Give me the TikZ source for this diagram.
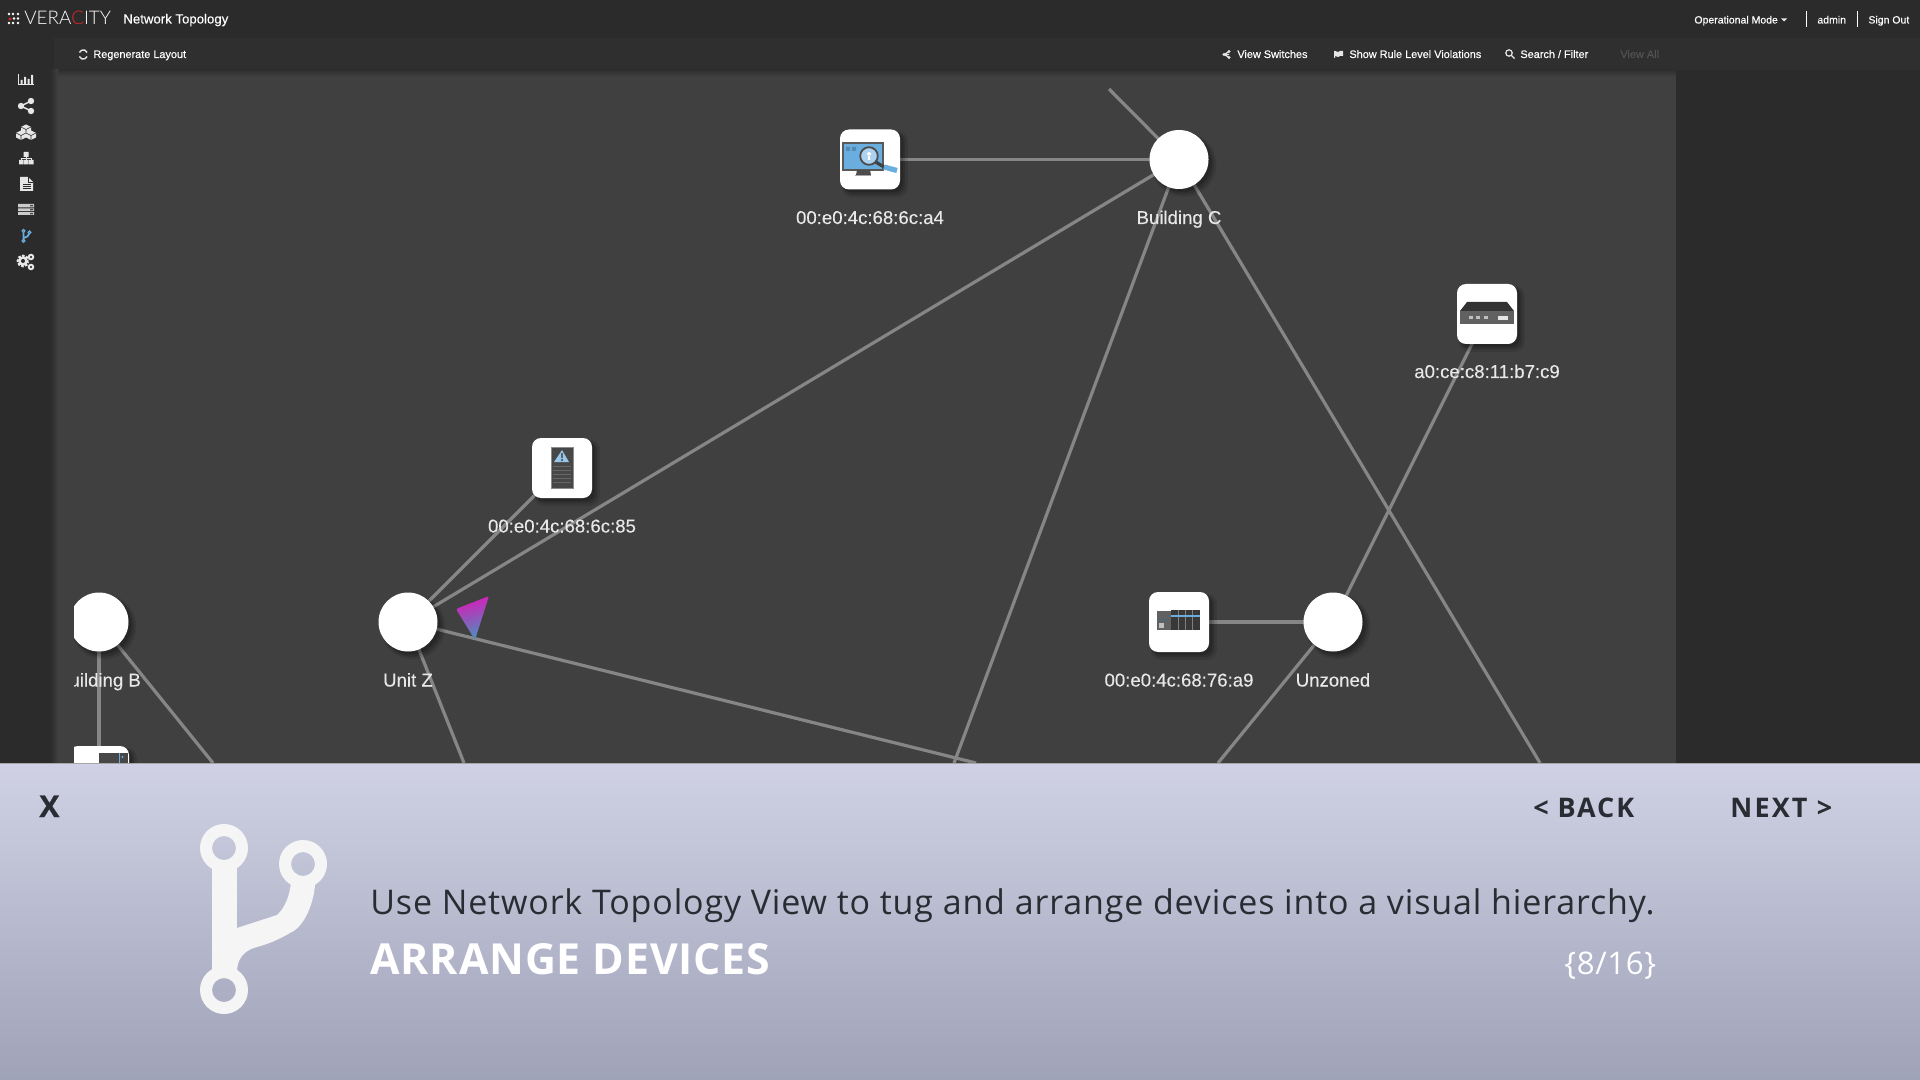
\documentclass[tikz,border=0pt]{standalone}
\usepackage{fontspec}
\setmainfont{Liberation Sans}
\newfontfamily\panelfont{Open Sans}
\newfontfamily\logofont{Lato Light}
\usetikzlibrary{shadows,calc}
\pgfdeclarelayer{back}
\pgfdeclarelayer{edge}
\pgfsetlayers{back,edge,main}
\definecolor{barcol}{HTML}{2B2B2B}
\definecolor{toolcol}{HTML}{2F2F2F}
\definecolor{graphcol}{HTML}{404040}
\definecolor{linecol}{HTML}{868686}
\definecolor{labelcol}{HTML}{E8E8E8}
\definecolor{uicol}{HTML}{E6E6E6}
\definecolor{paneltop}{HTML}{D0D1E5}
\definecolor{panelbot}{HTML}{9FA3B7}
\definecolor{paneldark}{HTML}{2A2C33}
\definecolor{iconblue}{HTML}{6AAEE0}
\definecolor{cursortop}{HTML}{D81CB8}
\definecolor{cursormid}{HTML}{8A62B4}
\definecolor{cursorbot}{HTML}{4A90BE}
\definecolor{logored}{HTML}{E0242A}
\tikzset{
  softshadow/.style={
    general shadow={fill=black,opacity=.10,shadow xshift=2.2pt,shadow yshift=-2.2pt,shadow scale=1.10},
    general shadow={fill=black,opacity=.14,shadow xshift=2pt,shadow yshift=-2pt,shadow scale=1.04},
    general shadow={fill=black,opacity=.18,shadow xshift=1.5pt,shadow yshift=-1.5pt}},
  zone/.style={circle,fill=white,minimum size=29.5pt,inner sep=0pt,softshadow},
  device/.style={rectangle,rounded corners=4.5pt,fill=white,minimum size=30pt,inner sep=0pt,softshadow},
  link/.style={draw=linecol,line width=1.6pt},
  nodelabel/.style={anchor=base,inner sep=0pt,text=labelcol,font=\fontsize{9.3}{11}\selectfont\addfontfeature{FakeBold=0.15}},
  uitext/.style={anchor=base west,inner sep=0pt,text=white,font=\fontsize{5.45}{7}\selectfont\addfontfeature{FakeBold=0.25}},
  uitop/.style={uitext,font=\fontsize{5.25}{7}\selectfont\addfontfeature{FakeBold=0.25}},
  uiicon/.style={fill=uicol,draw=none},
  paneltext/.style={anchor=base west,inner sep=0pt,font=\panelfont\fontsize{17}{22}\selectfont},
  navtext/.style={anchor=base west,inner sep=0pt,text=paneldark,font=\panelfont\bfseries\fontsize{13.5}{16}\selectfont},
}
\begin{document}
\begin{tikzpicture}[x=0.5pt,y=-0.5pt]
\useasboundingbox (0,0) rectangle (1920,1080);
% backgrounds
\begin{pgfonlayer}{back}
\fill[barcol] (0,0) rectangle (1920,1080);
\fill[toolcol] (54,38) rectangle (1920,70);
\fill[graphcol] (56,70) rectangle (1676,780);
\shade[top color=toolcol,bottom color=graphcol] (56,70) rectangle (1676,77);
\shade[left color=barcol,right color=graphcol] (50,70) rectangle (58,780);
\end{pgfonlayer}
% free ends
\coordinate (endtop) at (1109,89);
\coordinate (endA) at (954,763);
\coordinate (endB) at (1540,763);
\coordinate (endC) at (1218,763);
\coordinate (endD) at (976,763);
\coordinate (endE) at (464,763);
\coordinate (endF) at (213,763);
% nodes
\node[zone] (bldgC) at (1179,159.5) {};
\node[zone] (unitZ) at (408,622) {};
\node[zone] (bldgB) at (99,622) {};
\node[zone] (unzoned) at (1333,622) {};
\node[device] (devA4) at (870,159.5) {};
\node[device] (devC9) at (1487,314) {};
\node[device] (dev85) at (562,468) {};
\node[device] (devA9) at (1179,622) {};
\node[device] (devLow) at (99,776) {};
% connectors
\begin{pgfonlayer}{edge}
\draw[link] (bldgC.center) -- (endtop);
\draw[link] (devA4.center) -- (bldgC.center);
\draw[link] (bldgC.center) -- (unitZ.center);
\draw[link] (bldgC.center) -- (endA);
\draw[link] (bldgC.center) -- (endB);
\draw[link] (devC9.center) -- (unzoned.center);
\draw[link] (devA9.center) -- (unzoned.center);
\draw[link] (unzoned.center) -- (endC);
\draw[link] (unitZ.center) -- (dev85.center);
\draw[link] (unitZ.center) -- (endD);
\draw[link] (unitZ.center) -- (endE);
\draw[link] (bldgB.center) -- (devLow.center);
\draw[link] (bldgB.center) -- (endF);
\end{pgfonlayer}
% monitor icon
\fill[iconblue,draw=black!65,line width=.6pt] (843,143) rectangle (883,170);
\fill[black!70] (857,170) -- (870,170) -- (871,175) -- (856,175) -- cycle;
\fill[black!35] (855,175) rectangle (871,176);
\fill[iconblue!80!black] (846,147) rectangle (850,151) (852,147) rectangle (856,151);
\draw[line width=1.6pt,black!75] (874,161) -- (884,167);
\draw[line width=2.6pt,iconblue] (884,167) -- (897,170.5);
\fill[white!45!iconblue,draw=black!70,line width=.9pt] (869,156) circle (8.8);
\fill[white] (869,154) circle (2) (868,155) rectangle (870,160);
% switch icon
\fill[black!80] (1460,311) -- (1467,302) -- (1507,302) -- (1514,311) -- cycle;
\fill[black!62] (1460,311) rectangle (1514,324);
\foreach \px in {1471,1478,1486}{\fill[black!25] (\px-2,316.5) rectangle (\px+2,319.5);}
\fill[black!10] (1498,316) rectangle (1508,320);
% rack icon
\fill[black!72,draw=black!45,line width=.5pt] (551,447) rectangle (573,488);
\fill[iconblue!70!white] (562,450) -- (554,462) -- (569,462) -- cycle;
\fill[black!80] (561.3,453) rectangle (562.7,458) (561.3,459) rectangle (562.7,461);
\foreach \py in {466,470,474,478,482}{\draw[black!60,line width=.3pt] (553,\py) -- (571,\py);}
% plc icon
\fill[black!62] (1157,611) rectangle (1171,630);
\fill[black!78] (1171,610) rectangle (1200,630);
\foreach \px in {1178,1185,1192}{\draw[black!50,line width=.4pt] (\px,610) -- (\px,630);}
\draw[iconblue,line width=.6pt] (1171,616) -- (1200,616);
\fill[iconblue!60!black] (1160,618.5) rectangle (1168,620);
\fill[black!25] (1159,623) rectangle (1164,628);
% lower device icon
\fill[black!72] (99,753) rectangle (128,770);
\draw[iconblue,line width=.5pt] (119,753) -- (119,770);
\fill[iconblue] (122.5,757) circle (1.2);
% cursor triangle
\shade[top color=cursortop,middle color=cursormid,bottom color=cursorbot,rounded corners=1pt,shading angle=15]
  (456,609) -- (489,596) -- (475,640) -- cycle;
% labels
\node[nodelabel] (lblA4) at (870,224) {00:e0:4c:68:6c:a4};
\node[nodelabel] (lblC) at (1179,224) {Building C};
\node[nodelabel] (lblC9) at (1487,378) {a0:ce:c8:11:b7:c9};
\node[nodelabel] (lbl85) at (562,532.5) {00:e0:4c:68:6c:85};
\node[nodelabel] (lblZ) at (408,686.5) {Unit Z};
\node[nodelabel] (lblB) at (99,686.5) {Building B};
\node[nodelabel] (lblA9) at (1179,686.5) {00:e0:4c:68:76:a9};
\node[nodelabel] (lblU) at (1333,686.5) {Unzoned};
% left clip of the graph
\fill[graphcol] (58,560) rectangle (74,763);
% top bar
\foreach \dx/\dy in {9/14,13/14,18/14,14/18.5,18/18.5,9/23,13/23,18/23}{\fill[white] (\dx,\dy) circle (1.3);}
\fill[logored] (10,19) circle (1.6);
\node[anchor=base west,inner sep=0pt,text=white,font=\logofont\fontsize{9.4}{11}\selectfont] (logo) at (24,24.5)
  {VERA\textcolor{logored}{C}ITY};
\node[uitext,font=\fontsize{6.6}{8}\selectfont\addfontfeature{FakeBold=0.25}] (title) at (123,23.5) {Network Topology};
\node[uitext] (regen) at (93,58) {Regenerate Layout};
\node[uitext] (views) at (1237,58) {View Switches};
\node[uitext] (rules) at (1349,58) {Show Rule Level Violations};
\node[uitext] (search) at (1520,58) {Search / Filter};
\node[uitext,text=black!68] (viewall) at (1620,58) {View All};
\node[uitop] (opmode) at (1694,23.5) {Operational Mode};
\node[uitop] (admin) at (1817,23.5) {admin};
\node[uitop] (signout) at (1868,23.5) {Sign Out};
\fill[uicol] (1781,18.5) -- (1787,18.5) -- (1784,21.5) -- cycle;
\draw[white,line width=.5pt] (1806,11) -- (1806,27) (1857,11) -- (1857,27);
% toolbar icons
\draw[uicol,line width=.7pt] (79.5,52.5) arc (200:340:4);
\draw[uicol,line width=.7pt] (87,56.5) arc (20:160:4);
\draw[uicol,line width=.55pt] (1229,54.5) -- (1224,54.5) (1229,51.5) -- (1224,54.5) -- (1229,57.5);
\fill[uicol] (1224,54.5) circle (1.6) (1229,51.5) circle (1.6) (1229,57.5) circle (1.6);
\fill[uicol] (1334,51) rectangle (1335,58) (1335,51) -- (1338,52) -- (1340,51) -- (1343,51) -- (1343,56) -- (1340,56) -- (1338,57) -- (1335,56) -- cycle;
\draw[uicol,line width=.6pt] (1509,53) circle (3.2) (1511.5,55.5) -- (1514.5,58.5);
% sidebar icons
\draw[uicol,line width=.5pt] (18,74) -- (18,85) -- (34,85);
\fill[uicol] (20.5,80) rectangle (22.5,84) (24,77) rectangle (26,84) (27.5,79) rectangle (29.5,84) (31,75) rectangle (33,84);
\draw[uicol,line width=.7pt] (31,101) -- (21,106) -- (31,111);
\fill[uicol] (21,106) circle (3.2) (31,101) circle (3.2) (31,111) circle (3.2);
\foreach \cx/\cy in {26/129,21/135,31/135}{\fill[uicol] (\cx,\cy-4.5) -- (\cx+5,\cy-2) -- (\cx+5,\cy+2.5) -- (\cx,\cy+5) -- (\cx-5,\cy+2.5) -- (\cx-5,\cy-2) -- cycle;
  \draw[barcol,line width=.3pt] (\cx-5,\cy-2) -- (\cx,\cy+.5) -- (\cx+5,\cy-2) (\cx,\cy+.5) -- (\cx,\cy+5);}
\fill[uicol] (23.5,152) rectangle (28.5,157) (19,160) rectangle (23.5,164.5) (24,160) rectangle (28.5,164.5) (29,160) rectangle (33.5,164.5);
\draw[uicol,line width=.4pt] (26,157) -- (26,160) (21,160) -- (21,158.5) -- (31,158.5) -- (31,160);
\fill[uicol] (20,177) -- (28,177) -- (33,182) -- (33,191) -- (20,191) -- cycle;
\draw[barcol,line width=.4pt] (28,177) -- (28,182) -- (33,182) (22.5,184) -- (30.5,184) (22.5,186) -- (30.5,186) (22.5,188) -- (30.5,188);
\fill[black!20] (18,204) rectangle (34,207.5) (18,208.5) rectangle (34,211) (18,212) rectangle (34,215);
\fill[black!70] (30,205) rectangle (33,206.5) (30,209) rectangle (33,210.5) (30,213) rectangle (33,214.5);
\draw[iconblue,line width=.9pt] (23.5,232) -- (23.5,241) (23.5,238) .. controls (27,237) and (29,236) .. (29.5,233);
\draw[iconblue,line width=.6pt,fill=barcol] (23.5,231) circle (1.4) (23.5,241) circle (1.4) (29.5,232.5) circle (1.4);
\draw[uicol,line width=2pt,dash pattern=on .9pt off .7pt] (23,261) circle (4.3);
\draw[uicol,line width=1.2pt] (23,261) circle (3.6);
\draw[uicol,line width=1pt] (31,257) circle (2.2) (31,267) circle (2.2);
% bottom panel
\shade[top color=paneltop,bottom color=panelbot] (0,763) rectangle (1920,1080);
\draw[black!35,line width=.5pt] (0,763) -- (1920,763);
\node[navtext,font=\panelfont\bfseries\fontsize{15}{18}\selectfont\addfontfeature{FakeBold=0.6}] (closex) at (39,817) {X};
\node[navtext] (back) at (1533,817) {\addfontfeature{LetterSpace=7}< BACK};
\node[navtext] (next) at (1730,817) {\addfontfeature{LetterSpace=8}NEXT >};
\node[paneltext,text=paneldark] (msg) at (370,914) {\addfontfeature{LetterSpace=2.5}Use Network Topology View to tug and arrange devices into a visual hierarchy.};
\node[paneltext,text=white,font=\panelfont\bfseries\fontsize{21.4}{25}\selectfont] (head) at (370,974) {\addfontfeature{LetterSpace=2}ARRANGE DEVICES};
\node[paneltext,text=white,font=\panelfont\fontsize{15.6}{18}\selectfont] (count) at (1564,974) {\addfontfeature{LetterSpace=2}\{8/16\}};
% fork icon
\fill[white!96!black,even odd rule] (224,848) circle (24) (224,848) circle (12);
\fill[white!96!black,even odd rule] (224,990) circle (24) (224,990) circle (12);
\fill[white!96!black,even odd rule] (303,864) circle (24) (303,864) circle (12);
\fill[white!96!black] (212,866) rectangle (237,972);
\fill[white!96!black] (237,928) .. controls (252,923) and (265,919) .. (277,915)
  .. controls (285,908) and (290,895) .. (291,882) -- (315,885)
  .. controls (314,900) and (306,926) .. (290,933)
  .. controls (278,940) and (268,944) .. (257,947)
  .. controls (245,950) and (237,958) .. (237,972) -- (225,972) -- (225,928) -- cycle;
\end{tikzpicture}
\end{document}
